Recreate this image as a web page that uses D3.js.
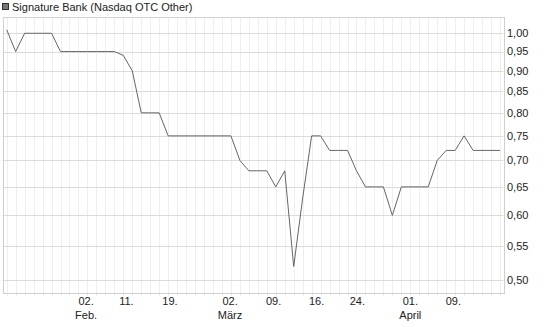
<!DOCTYPE html>
<html>
<head>
<meta charset="utf-8">
<script src="https://cdn.jsdelivr.net/npm/d3@7"></script>
<style>
  body { margin: 0; background: #fff; }
  text { font-family: "Liberation Sans", Arial, sans-serif; font-size: 11px; fill: #222; }
</style>
</head>
<body>
<div class="d3-chart"></div>
<script>
const seriesName = "Signature Bank (Nasdaq OTC Other)";

// one value per trading day
const prices = [
  1.01, 0.95, 1.00, 1.00, 1.00, 1.00, 0.95, 0.95, 0.95, 0.95,
  0.95, 0.95, 0.95, 0.94, 0.90, 0.80, 0.80, 0.80, 0.75, 0.75,
  0.75, 0.75, 0.75, 0.75, 0.75, 0.75, 0.70, 0.68, 0.68, 0.68,
  0.65, 0.68, 0.52, 0.63, 0.75, 0.75, 0.72, 0.72, 0.72, 0.68,
  0.65, 0.65, 0.65, 0.60, 0.65, 0.65, 0.65, 0.65, 0.70, 0.72,
  0.72, 0.75, 0.72, 0.72, 0.72, 0.72
];

const yTicks = [0.50, 0.55, 0.60, 0.65, 0.70, 0.75, 0.80, 0.85, 0.90, 0.95, 1.00];

// x tick labels, position given in trading-day index
const xTickPos = [8.85, 13.35, 18.2, 24.9, 29.75, 34.55, 39.1, 45.0, 49.8];
const xTickDays = ["02.", "11.", "19.", "02.", "09.", "16.", "24.", "01.", "09."];
const xTickMonths = ["Feb.", "", "", "März", "", "", "", "April", ""];

const width = 545;
const height = 327;
const plot = {left: 2.5, right: 503, top: 17, bottom: 293};

const svg = d3.select(".d3-chart")
  .append("svg")
  .attr("width", width)
  .attr("height", height);

const x = d3.scaleLinear()
  .domain([0, prices.length - 1])
  .range([6.7, 500]);

const y = d3.scaleLog()
  .domain([0.4827, 1.0467])
  .range([plot.bottom, plot.top]);

// vertical grid, one line per day, sticking out a little below the frame
svg.append("g")
  .selectAll("line")
  .data(d3.range(prices.length))
  .join("line")
  .attr("x1", d => Math.round(x(d)) + 0.5)
  .attr("x2", d => Math.round(x(d)) + 0.5)
  .attr("y1", plot.top)
  .attr("y2", plot.bottom + 3)
  .attr("stroke", "#efefef");

// horizontal grid
svg.append("g")
  .selectAll("line")
  .data(yTicks)
  .join("line")
  .attr("x1", plot.left)
  .attr("x2", plot.right)
  .attr("y1", d => Math.round(y(d)) + 0.5)
  .attr("y2", d => Math.round(y(d)) + 0.5)
  .attr("stroke", "#dcdcdc");

// frame
svg.append("rect")
  .attr("x", Math.round(plot.left) + 0.5)
  .attr("y", plot.top + 0.5)
  .attr("width", Math.round(plot.right - plot.left))
  .attr("height", plot.bottom - plot.top)
  .attr("fill", "none")
  .attr("stroke", "#d0d0d0");

// y labels on the right
svg.append("g")
  .selectAll("text")
  .data(yTicks)
  .join("text")
  .attr("x", 507)
  .attr("y", d => y(d))
  .attr("dy", "0.35em")
  .text(d => d3.format(".2f")(d).replace(".", ","));

// x labels
const xl = svg.append("g")
  .selectAll("g")
  .data(xTickPos)
  .join("g")
  .attr("transform", d => `translate(${x(d)}, 0)`);

xl.append("text")
  .attr("y", 305)
  .attr("text-anchor", "middle")
  .text((d, i) => xTickDays[i]);

xl.append("text")
  .attr("y", 319)
  .attr("text-anchor", "middle")
  .text((d, i) => xTickMonths[i]);

// price line
svg.append("path")
  .datum(prices)
  .attr("fill", "none")
  .attr("stroke", "#666")
  .attr("stroke-width", 1)
  .attr("d", d3.line()
    .x((d, i) => x(i))
    .y(d => y(d)));

// legend
svg.append("rect")
  .attr("x", 2.5)
  .attr("y", 3.5)
  .attr("width", 6)
  .attr("height", 6)
  .attr("fill", "#777")
  .attr("stroke", "#333");

svg.append("text")
  .attr("x", 12)
  .attr("y", 11)
  .text(seriesName);
</script>
</body>
</html>
